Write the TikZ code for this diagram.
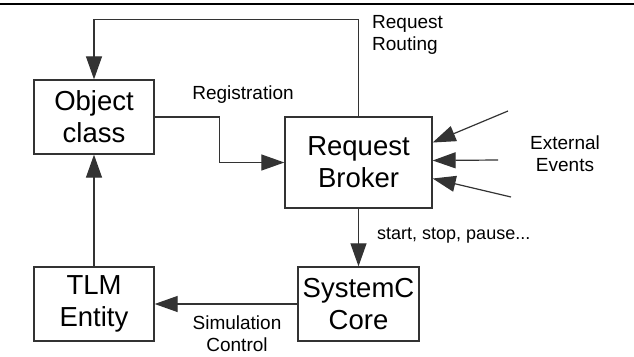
\documentclass[tikz,border=0pt]{standalone}
\usepackage{fontspec}
\setmainfont{Liberation Sans}
\usepackage{tikz}
\usetikzlibrary{arrows.meta,calc}
\definecolor{boxline}{HTML}{333333}

\begin{document}
\begin{tikzpicture}[x=1pt,y=-1pt,
    block/.style={draw=boxline,line width=1.3pt,inner sep=0pt,align=center,
      font=\fontsize{27.5}{32}\selectfont},
    lbl/.style={inner sep=0pt,font=\fontsize{19}{22}\selectfont},
    flow/.style={draw=boxline,line width=1.2pt,-{Triangle[length=23pt,width=16pt]}}]
  \useasboundingbox (0,0) rectangle (634,356);

  % Top rule
  \draw[line width=2pt] (0,4) -- (634,4);

  % Blocks
  \node[block,minimum width=120pt,minimum height=74pt] (obj) at (94,117) {Object\\class};
  \node[block,minimum width=147pt,minimum height=91pt] (broker) at (358.5,162.5) {Request\\Broker};
  \node[block,minimum width=120pt,minimum height=74pt] (tlm) at (94,304) {TLM\\Entity};
  \node[block,minimum width=121pt,minimum height=74pt] (sysc) at (358.5,304) {SystemC\\Core};

  % Request routing back to the object class
  \draw[flow] (broker.north) -- ++(0,-97) -| (obj.north);
  \node[lbl,anchor=west,align=left] (routing) at (372,35) {Request\\Routing};

  % Registration
  \draw[flow] (obj.east) -- ++(65,0) |- (broker.west);
  \node[lbl] (registration) at (243,95) {Registration};

  % External events into the broker
  \coordinate (ev1) at (508,111);
  \coordinate (ev2) at (498,160);
  \coordinate (ev3) at (511,197);
  \draw[flow] (ev1) -- ([yshift=20pt]broker.east);
  \draw[flow] (ev2) -- ([yshift=2pt]broker.east);
  \draw[flow] (ev3) -- ([yshift=-16pt]broker.east);
  \node[lbl,align=center] (events) at (565,154) {External\\Events};

  % Broker drives the kernel
  \draw[flow] (broker.south) -- (sysc.north);
  \node[lbl,anchor=west,font=\fontsize{18}{21}\selectfont] (ctrl) at (377,236) {start, stop, pause...};

  % Kernel to TLM entity, entity to object class
  \draw[flow] (sysc.west) -- (tlm.east);
  \node[lbl,align=center] (simctrl) at (237,334) {Simulation\\Control};
  \draw[flow] (tlm.north) -- (obj.south);
\end{tikzpicture}
\end{document}
